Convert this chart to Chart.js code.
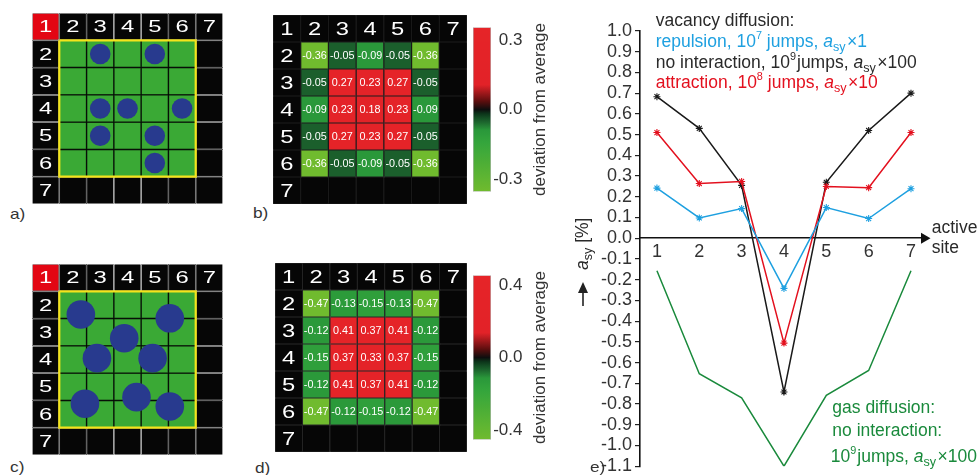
<!DOCTYPE html>
<html><head><meta charset="utf-8">
<script src="https://cdn.jsdelivr.net/npm/chart.js@4.4.0/dist/chart.umd.min.js"></script>
<style>
html,body{margin:0;padding:0;width:979px;height:475px;overflow:hidden;background:#fff;font-family:"Liberation Sans",Arial,sans-serif;}
canvas{position:absolute;display:block;}
canvas.g{background:#000;}
.lbl{position:absolute;font-size:15px;color:#333;line-height:1;transform:scaleX(1.15);transform-origin:left top;}
</style></head><body>
<canvas class="g" id="ga" width="191" height="191" style="left:32px;top:13px"></canvas>
<canvas class="g" id="gc" width="191" height="191" style="left:32px;top:264px"></canvas>
<canvas class="g" id="hb" width="194" height="189" style="left:273px;top:15px"></canvas>
<canvas class="g" id="hd" width="192" height="189" style="left:275px;top:263px"></canvas>
<canvas id="cbb" width="90" height="189" style="left:473px;top:15px"></canvas>
<canvas id="cbd" width="90" height="189" style="left:473px;top:263px"></canvas>
<canvas id="le" width="419" height="480" style="left:560px;top:0px"></canvas>
<div class="lbl" style="left:10px;top:206px">a)</div>
<div class="lbl" style="left:253px;top:205px">b)</div>
<div class="lbl" style="left:10px;top:459px">c)</div>
<div class="lbl" style="left:255px;top:460px">d)</div>
<div class="lbl" style="left:590px;top:459px">e)</div>
<script>
// ---------------- data ----------------
const gridIdx = [1, 2, 3, 4, 5, 6, 7];
const headerLabels = ['1', '2', '3', '4', '5', '6', '7'];
const activeFirst = 2, activeLast = 6;               // active (green / heat) region rows & cols
const circlesA_col = [3, 5, 3, 4, 6, 3, 5, 5];
const circlesA_row = [2, 2, 4, 4, 4, 5, 5, 6];
const circlesC_col = [2.29, 5.55, 3.88, 2.88, 4.92, 2.44, 4.33, 5.55];
const circlesC_row = [2.35, 2.49, 3.22, 3.95, 3.95, 5.62, 5.38, 5.72];
const heatB = [
  [-0.36, -0.05, -0.09, -0.05, -0.36],
  [-0.05,  0.27,  0.23,  0.27, -0.05],
  [-0.09,  0.23,  0.18,  0.23, -0.09],
  [-0.05,  0.27,  0.23,  0.27, -0.05],
  [-0.36, -0.05, -0.09, -0.05, -0.36]
];
const heatD = [
  [-0.47, -0.13, -0.15, -0.13, -0.47],
  [-0.12,  0.41,  0.37,  0.41, -0.12],
  [-0.15,  0.37,  0.33,  0.37, -0.15],
  [-0.12,  0.41,  0.37,  0.41, -0.12],
  [-0.47, -0.12, -0.15, -0.12, -0.47]
];
const cbRangeB = 0.355, cbRangeD = 0.455;
const cbTicksB = [-0.3, 0.0, 0.3];
const cbTicksD = [-0.4, 0.0, 0.4];
const sites = [1, 2, 3, 4, 5, 6, 7];
const repulsion     = [0.242, 0.098, 0.143, -0.242, 0.148, 0.095, 0.239];
const noInteraction = [0.683, 0.530, 0.255, -0.742, 0.270, 0.520, 0.700];
const attraction    = [0.510, 0.264, 0.274, -0.506, 0.250, 0.244, 0.510];
const gasDiffusion  = [-0.157, -0.654, -0.770, -1.100, -0.758, -0.638, -0.157];
const yTicksE = [1.0, 0.9, 0.8, 0.7, 0.6, 0.5, 0.4, 0.3, 0.2, 0.1, 0.0, -0.1, -0.2, -0.3, -0.4, -0.5, -0.6, -0.7, -0.8, -0.9, -1.0, -1.1];

// ---------------- styles ----------------
const FONT = '"Liberation Sans", Arial, Helvetica, sans-serif';
Chart.defaults.font.family = FONT;
const BLACK = '#060606', GREEN = '#3aa935', RED = '#e30613', NAVY = '#283a8e', YELLOW = '#f3e41c';
const C_BLUE = '#1ea0e0', C_RED = '#e3101e', C_BLACK = '#1a1a1a', C_GREEN = '#1a8a3c', TXT = '#2a2a2a';
const cmapStops = [
  [-1.0, [112, 187, 46]], [-0.4, [52, 165, 60]], [-0.25, [42, 152, 58]], [-0.14, [27, 95, 44]],
  [-0.06, [12, 60, 28]], [0.0, [14, 14, 14]], [0.1, [92, 14, 14]], [0.3, [226, 34, 40]], [1.0, [230, 36, 40]]
];
function cmap(frac) {
  frac = Math.max(-1, Math.min(1, frac));
  for (let i = 1; i < cmapStops.length; i++) {
    const [f1, c1] = cmapStops[i - 1], [f2, c2] = cmapStops[i];
    if (frac <= f2) {
      const t = (frac - f1) / (f2 - f1);
      const c = c1.map((v, k) => Math.round(v + (c2[k] - v) * t));
      return `rgb(${c[0]},${c[1]},${c[2]})`;
    }
  }
  return 'rgb(230,36,40)';
}
const inActive = (r, c) => r >= activeFirst && r <= activeLast && c >= activeFirst && c <= activeLast;

function cellText(chart, txt, c, r, size, sx, color) {
  const {ctx, scales: {x, y}} = chart;
  ctx.save();
  ctx.translate(x.getPixelForValue(c), y.getPixelForValue(r));
  ctx.scale(sx, 1);
  ctx.font = size + 'px ' + FONT;
  ctx.fillStyle = color; ctx.textAlign = 'center'; ctx.textBaseline = 'middle';
  ctx.fillText(txt, 0, 1);
  ctx.restore();
}
function headers(chart, size, sx) {
  gridIdx.forEach((c, i) => cellText(chart, headerLabels[i], c, 1, size, sx, '#fff'));
  gridIdx.slice(1).forEach((r) => cellText(chart, headerLabels[r - 1], 1, r, size, sx, '#fff'));
}

function makeGrid(id, cfg) {
  const cells = [];
  gridIdx.forEach(r => gridIdx.forEach(c => cells.push({x: c, y: [r - 0.5, r + 0.5], r, c})));
  const datasets = [{
    type: 'bar', data: cells, order: 5,
    backgroundColor: ctx => ctx.raw ? cfg.fill(ctx.raw.r, ctx.raw.c) : BLACK,
    borderColor: ctx => ctx.raw ? cfg.line(ctx.raw.r, ctx.raw.c) : '#888',
    borderWidth: ctx => ctx.raw ? cfg.lineW(ctx.raw.r, ctx.raw.c) : 0.6,
    borderSkipped: false, inflateAmount: 0,
    barPercentage: 1, categoryPercentage: 1, grouped: false
  }].concat(cfg.extra || []);
  const tickSet = s => { s.ticks = gridIdx.map(v => ({value: v})); };
  return new Chart(document.getElementById(id), {
    type: 'bar',
    data: {datasets},
    options: {
      responsive: false, animation: false, events: [],
      layout: {padding: 0, autoPadding: false},
      plugins: {legend: {display: false}, tooltip: {enabled: false}},
      scales: {
        x: {type: 'linear', min: 0.5, max: 7.5, offset: false, display: false, afterBuildTicks: tickSet},
        y: {type: 'linear', min: 0.5, max: 7.5, offset: false, reverse: true, display: false, afterBuildTicks: tickSet}
      }
    },
    plugins: [{id: 'cellText', afterDatasetsDraw: chart => cfg.text(chart)}]
  });
}

const lo = activeFirst - 0.5, hi = activeLast + 0.5;
const yellowFrame = {
  type: 'line', order: 1, borderColor: YELLOW, borderWidth: 2.2, pointRadius: 0, fill: false, tension: 0,
  data: [{x: lo, y: lo}, {x: hi, y: lo}, {x: hi, y: hi}, {x: lo, y: hi}, {x: lo, y: lo}]
};
function latticeCfg(cols, rows, radius) {
  return {
    fill: (r, c) => (r === 1 && c === 1) ? RED : (inActive(r, c) ? GREEN : BLACK),
    line: (r, c) => inActive(r, c) ? '#102410' : '#dcdcdc',
    lineW: (r, c) => inActive(r, c) ? 0.7 : 0.85,
    extra: [
      {type: 'scatter', order: 2, pointRadius: radius, pointBackgroundColor: NAVY, pointBorderWidth: 0,
       backgroundColor: NAVY, borderWidth: 0,
       data: cols.map((c, i) => ({x: c, y: rows[i]}))},
      Object.assign({}, yellowFrame)
    ],
    text: chart => headers(chart, 17, 1.4)
  };
}
makeGrid('ga', latticeCfg(circlesA_col, circlesA_row, 10.3));
makeGrid('gc', latticeCfg(circlesC_col, circlesC_row, 14.3));

function heatCfg(heat, range, lineColor, valSize) {
  return {
    fill: (r, c) => inActive(r, c) ? cmap(heat[r - activeFirst][c - activeFirst] / range) : BLACK,
    line: () => lineColor,
    lineW: () => 0.6,
    text: chart => {
      headers(chart, 19, 1.25);
      heat.forEach((row, i) => row.forEach((v, j) =>
        cellText(chart, v.toFixed(2), j + activeFirst, i + activeFirst, valSize, 1.08, '#fff')));
    }
  };
}
makeGrid('hb', heatCfg(heatB, cbRangeB, '#3a3a3a', 10));
makeGrid('hd', heatCfg(heatD, cbRangeD, '#505050', 10));

function makeColorbar(id, range, ticks) {
  new Chart(document.getElementById(id), {
    type: 'bar',
    data: {labels: [''], datasets: [{
      data: [[-range, range]],
      backgroundColor: ctx => {
        const ch = ctx.chart, y = ch.scales.y;
        if (!ch.chartArea || !y) return '#000';
        const g = ch.ctx.createLinearGradient(0, y.getPixelForValue(range), 0, y.getPixelForValue(-range));
        for (let k = 0; k <= 40; k++) g.addColorStop(k / 40, cmap(1 - 2 * k / 40));
        return g;
      },
      borderColor: '#8a8a8a', borderWidth: 0.6, borderSkipped: false, inflateAmount: 0,
      barPercentage: 1, categoryPercentage: 1
    }]},
    options: {
      responsive: false, animation: false, events: [],
      layout: {padding: {left: 0, top: 0, bottom: 0, right: 40.5}, autoPadding: false},
      plugins: {legend: {display: false}, tooltip: {enabled: false}},
      scales: {
        x: {display: false},
        y: {position: 'right', min: -range, max: range,
            afterBuildTicks: s => { s.ticks = ticks.map(v => ({value: v})); },
            afterFit: s => { s.width = 31.5; },
            grid: {display: false, drawTicks: false, tickLength: 0},
            border: {display: false},
            ticks: {crossAlign: 'far', padding: 2, color: '#333', font: {size: 17},
                    callback: v => (Math.abs(v) < 1e-9 ? 0 : v).toFixed(1)}}
      }
    },
    plugins: [{id: 'cbTitle', afterDraw: chart => {
      const c = chart.ctx, a = chart.chartArea;
      c.save();
      c.translate(67, (a.top + a.bottom) / 2);
      c.rotate(-Math.PI / 2);
      c.font = '17px ' + FONT; c.fillStyle = '#333';
      c.textAlign = 'center'; c.textBaseline = 'middle';
      c.fillText('deviation from average', 0, 0);
      c.restore();
    }}]
  });
}
makeColorbar('cbb', cbRangeB, cbTicksB);
makeColorbar('cbd', cbRangeD, cbTicksD);

// ---------------- panel e ----------------
function drawRich(ctx, x, y, parts, size, color) {
  ctx.fillStyle = color; ctx.textBaseline = 'alphabetic'; ctx.textAlign = 'left';
  let cx = x;
  for (const p of parts) {
    let fs = size, dy = 0;
    if (p.sup) { fs = size * 0.62; dy = -size * 0.42; }
    if (p.sub) { fs = size * 0.72; dy = size * 0.24; }
    ctx.font = (p.it ? 'italic ' : '') + fs + 'px ' + FONT;
    ctx.fillText(p.t, cx, y + dy);
    cx += ctx.measureText(p.t).width + (p.gap || 0);
  }
}
const asy = (mult) => [{t: 'a', it: true}, {t: 'sy', sub: true, gap: 1.5}, {t: '\u00d7' + mult}];
const ptsOf = arr => sites.map((s, i) => ({x: s, y: arr[i]}));
const lineDs = (arr, color, star) => ({
  data: ptsOf(arr), borderColor: color, backgroundColor: color, borderWidth: 1.5, tension: 0, fill: false,
  pointStyle: 'star', pointRadius: star ? 3.5 : 0, pointBorderColor: color, pointBorderWidth: 1.1
});
new Chart(document.getElementById('le'), {
  type: 'line',
  data: {datasets: [
    lineDs(gasDiffusion, C_GREEN, false),
    lineDs(repulsion, C_BLUE, true),
    lineDs(attraction, C_RED, true),
    lineDs(noInteraction, C_BLACK, true)
  ]},
  options: {
    responsive: false, animation: false, events: [],
    layout: {padding: {left: 0, top: 31, right: 57, bottom: 12}},
    plugins: {legend: {display: false}, tooltip: {enabled: false}},
    scales: {
      x: {type: 'linear', position: {y: 0}, min: 0.6, max: 7.26,
          afterBuildTicks: s => { s.ticks = sites.map(v => ({value: v})); },
          grid: {display: true, drawOnChartArea: false, drawTicks: false, tickLength: 0, color: 'rgba(0,0,0,0)'},
          border: {display: true, color: '#111', width: 1.6},
          ticks: {padding: 3, autoSkip: false, maxRotation: 0, color: '#333', font: {size: 18}}},
      y: {type: 'linear', position: 'left', min: -1.1, max: 1.0,
          afterBuildTicks: s => { s.ticks = yTicksE.map(v => ({value: v})); },
          afterFit: s => { s.width = 80; },
          grid: {display: true, drawOnChartArea: false, drawTicks: true, tickLength: 5, color: '#222', lineWidth: 1.2},
          border: {display: true, color: '#111', width: 1.6},
          ticks: {padding: 3, autoSkip: false, color: '#333', font: {size: 18},
                  callback: v => (Math.abs(v) < 1e-9 ? 0 : v).toFixed(1)}}
    }
  },
  plugins: [{id: 'annot', afterDraw: chart => {
    const ctx = chart.ctx, a = chart.chartArea, y0 = chart.scales.y.getPixelForValue(0);
    ctx.save();
    ctx.fillStyle = '#111';
    ctx.beginPath(); ctx.moveTo(a.right - 1, y0 - 5.5); ctx.lineTo(a.right + 8.5, y0); ctx.lineTo(a.right - 1, y0 + 5.5); ctx.closePath(); ctx.fill();
    const S = 17.5;
    drawRich(ctx, 371.7, 233.3, [{t: 'active'}], S, TXT);
    drawRich(ctx, 371.7, 253.3, [{t: 'site'}], S, TXT);
    const L = 95.7;
    drawRich(ctx, L, 26, [{t: 'vacancy diffusion:'}], S, TXT);
    drawRich(ctx, L, 46.5, [{t: 'repulsion, 10'}, {t: '7', sup: true}, {t: ' jumps, '}].concat(asy('1')), S, C_BLUE);
    drawRich(ctx, L, 67.5, [{t: 'no interaction, 10'}, {t: '9', sup: true, gap: 1}, {t: 'jumps, '}].concat(asy('100')), S, TXT);
    drawRich(ctx, L, 87.5, [{t: 'attraction, 10'}, {t: '8', sup: true}, {t: ' jumps, '}].concat(asy('10')), S, C_RED);
    const G = 272.3;
    drawRich(ctx, G, 413.3, [{t: 'gas diffusion:'}], S, C_GREEN);
    drawRich(ctx, G, 436, [{t: 'no interaction:'}], S, C_GREEN);
    drawRich(ctx, G - 1.5, 461.7, [{t: '10'}, {t: '9', sup: true, gap: 1}, {t: 'jumps, '}].concat(asy('100')), S, C_GREEN);
    ctx.translate(23, 306);
    ctx.rotate(-Math.PI / 2);
    ctx.strokeStyle = '#222'; ctx.fillStyle = '#222'; ctx.lineWidth = 1.6;
    ctx.beginPath(); ctx.moveTo(0, 0); ctx.lineTo(15, 0); ctx.stroke();
    ctx.beginPath(); ctx.moveTo(24, 0); ctx.lineTo(13, -5); ctx.lineTo(13, 5); ctx.closePath(); ctx.fill();
    drawRich(ctx, 36, 5, [{t: 'a', it: true}, {t: 'sy', sub: true}, {t: ' [%]'}], S, TXT);
    ctx.restore();
  }}]
});
</script>
</body></html>
